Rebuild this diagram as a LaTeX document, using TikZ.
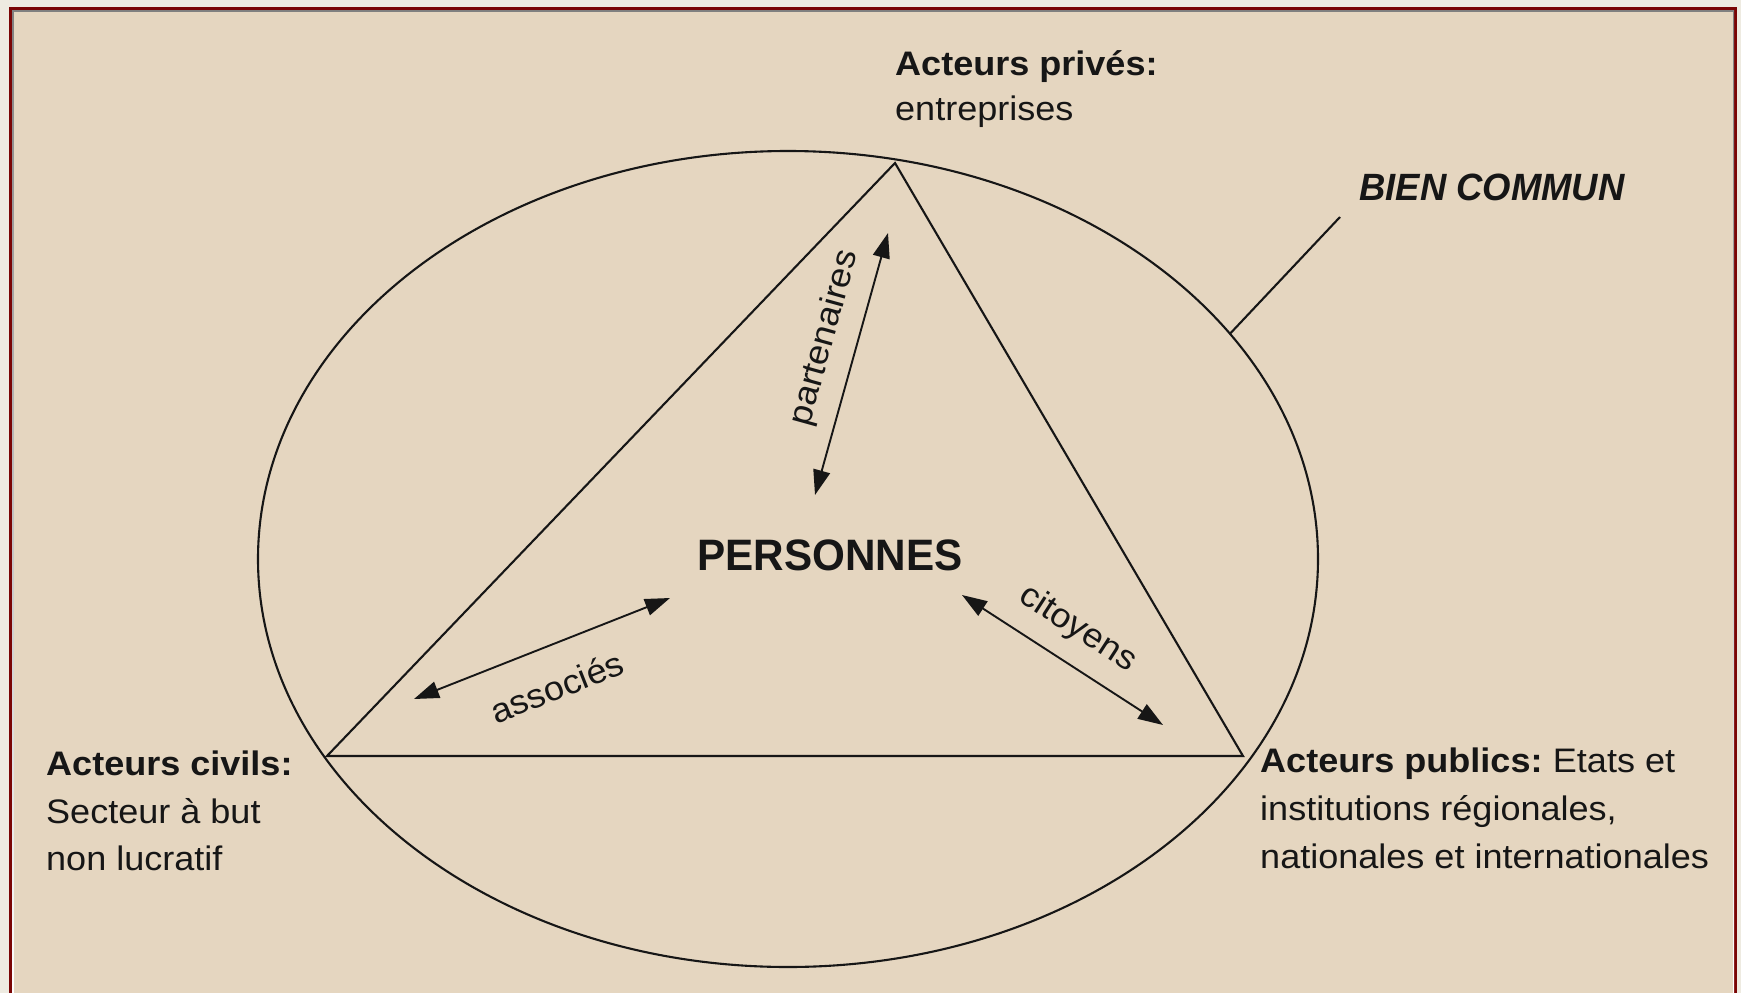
\documentclass[tikz,border=0pt]{standalone}
\usepackage{fontspec}
\setmainfont{Liberation Sans}
\newfontfamily\labfont{Liberation Sans}[FakeStretch=1.06]
\newfontfamily\titfont{Liberation Sans}[FakeStretch=0.96]
\usetikzlibrary{arrows.meta,shapes.geometric}
\definecolor{bg}{HTML}{E5D6C0}
\definecolor{outerbg}{HTML}{EEEBE1}
\definecolor{framered}{HTML}{7A0505}
\definecolor{shade}{HTML}{8E8272}
\definecolor{ink}{HTML}{161616}
\tikzset{
  lab/.style={anchor=base west, inner sep=0pt, text=ink, font=\labfont\fontsize{34}{40}\selectfont},
  rlab/.style={inner sep=0pt, text=ink, font=\labfont\fontsize{34}{40}\selectfont},
  tit/.style={anchor=base west, inner sep=0pt, text=ink},
  shapeline/.style={draw=ink, line width=2.1pt},
  dblarrow/.style={draw=ink, line width=1.9pt, {Triangle[length=25pt,width=17pt]}-{Triangle[length=25pt,width=17pt]}}
}
\begin{document}
\begin{tikzpicture}[x=1pt,y=-1pt]
\useasboundingbox (0,0) rectangle (1741,993);
% background and frame
\fill[outerbg] (0,0) rectangle (1741,993);
\fill[framered] (9,7) rectangle (1737,993);
\fill[shade] (12,10) rectangle (1734,993);
\fill[bg] (14,12) rectangle (1733,993);

% ellipse (bien commun)
\node[shapeline, ellipse, minimum width=1060pt, minimum height=816pt, inner sep=0pt, outer sep=0pt] (bien) at (788,559) {};

% triangle
\coordinate (A) at (895,163);
\coordinate (B) at (327,756);
\coordinate (C) at (1243,756);
\draw[shapeline, line join=miter] (A) -- (B) -- (C) -- cycle;

% bien commun label and leader
\node[tit, font=\titfont\fontsize{38}{44}\selectfont\bfseries\itshape] (bc) at (1359,200) {BIEN COMMUN};
\coordinate (bcend) at (1340,217);
\draw[shapeline] (bien.27) -- (bcend);

% center
\node[tit, font=\titfont\fontsize{44}{50}\selectfont\bfseries] (pers) at (697,570) {PERSONNES};

% arrows
\coordinate (p1) at (815,495);
\coordinate (p2) at (888,233);
\draw[dblarrow] (p1) -- (p2);
\node[rlab, rotate=74.5] (partlab) at (825,338) {partenaires};

\coordinate (a1) at (414,699);
\coordinate (a2) at (670,598);
\draw[dblarrow] (a1) -- (a2);
\node[rlab, rotate=21.5] (asslab) at (557,687) {associés};

\coordinate (c1) at (962,595);
\coordinate (c2) at (1163,725);
\draw[dblarrow] (c1) -- (c2);
\node[rlab, rotate=-32.9] (citlab) at (1078,629) {citoyens};

% actors
\node[lab] (priv1) at (895,75) {\bfseries Acteurs privés:};
\node[lab] (priv2) at (895,120) {entreprises};

\node[lab] (civ1) at (46,775) {\bfseries Acteurs civils:};
\node[lab] (civ2) at (46,823) {Secteur à but};
\node[lab] (civ3) at (46,870) {non lucratif};

\node[lab] (pub1) at (1260,772) {\textbf{Acteurs publics:}\hspace{-3pt} Etats et};
\node[lab] (pub2) at (1260,820) {institutions régionales,};
\node[lab] (pub3) at (1260,868) {nationales et internationales};
\end{tikzpicture}
\end{document}
